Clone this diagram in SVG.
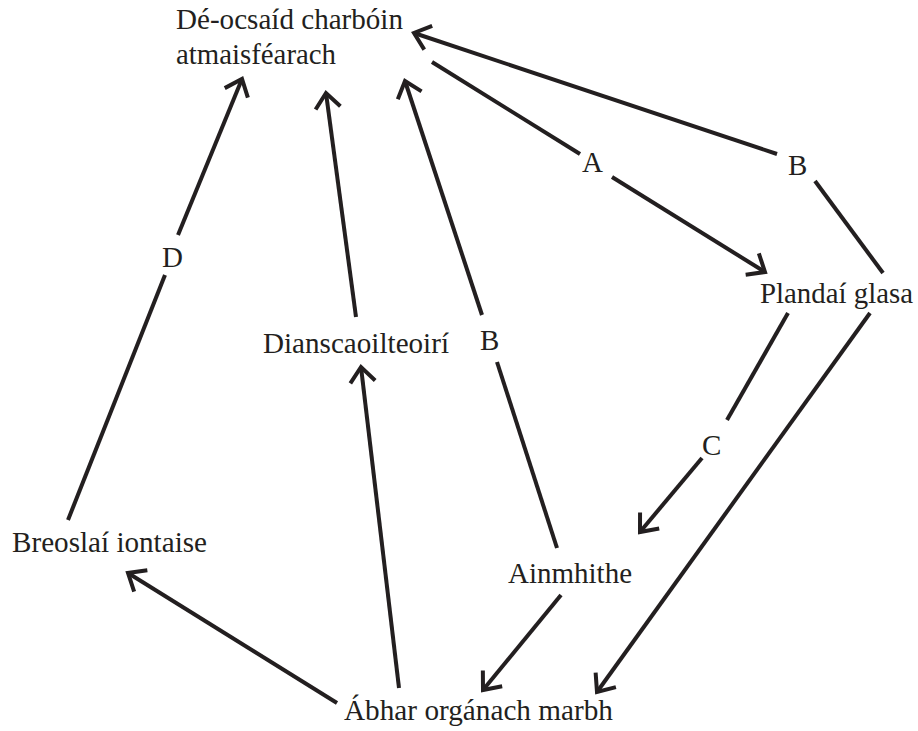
<svg xmlns="http://www.w3.org/2000/svg" width="918" height="731" viewBox="0 0 918 731">
<style>
text{font-family:"Liberation Serif","Times New Roman",serif;font-size:29px;fill:#231f20}
.c path{fill:none;stroke:#231f20;stroke-width:4}
</style>
<defs>
<marker id="arr" markerUnits="userSpaceOnUse" viewBox="-20 -15 25 30" markerWidth="25" markerHeight="30" refX="0" refY="0" orient="auto" overflow="visible">
<path d="M-15,-12.5 L0,0 L-15,12.5" fill="none" stroke="#231f20" stroke-width="4"/>
</marker>
</defs>
<rect width="918" height="731" fill="#fff"/>
<g class="c" id="connectors">
<path d="M883,273 L815,181"/>
<path d="M777,154 L414,33" marker-end="url(#arr)"/>
<path d="M432,62 L580,154"/>
<path d="M612,177 L765,272" marker-end="url(#arr)"/>
<path d="M788,313 L727,420"/>
<path d="M702,458 L640,532" marker-end="url(#arr)"/>
<path d="M870,313 L597,692" marker-end="url(#arr)"/>
<path d="M561,595 L483,690" marker-end="url(#arr)"/>
<path d="M557,548 L497,362"/>
<path d="M482,315 L405,81" marker-end="url(#arr)"/>
<path d="M356,317 L326,93" marker-end="url(#arr)"/>
<path d="M399,688 L361,367" marker-end="url(#arr)"/>
<path d="M337,703 L128,573" marker-end="url(#arr)"/>
<path d="M68,520 L165,275"/>
<path d="M178,235 L242,79" marker-end="url(#arr)"/>
<text x="582" y="172" font-size="30">A</text>
<text x="788" y="175" font-size="30">B</text>
<text x="702" y="455" font-size="30">C</text>
<text x="480" y="350" font-size="30">B</text>
<text x="162" y="267" font-size="30">D</text>
</g>
<g id="co2"><text x="176" y="29" textLength="227" lengthAdjust="spacingAndGlyphs">Dé-ocsaíd charbóin</text><text x="176" y="64" textLength="160" lengthAdjust="spacingAndGlyphs">atmaisféarach</text></g>
<g id="plandai"><text x="760" y="303" textLength="153" lengthAdjust="spacingAndGlyphs">Plandaí glasa</text></g>
<g id="dianscaoilteoiri"><text x="263" y="353" textLength="186" lengthAdjust="spacingAndGlyphs">Dianscaoilteoirí</text></g>
<g id="breoslai"><text x="12" y="552" textLength="195" lengthAdjust="spacingAndGlyphs">Breoslaí iontaise</text></g>
<g id="ainmhithe"><text x="508" y="583" textLength="124" lengthAdjust="spacingAndGlyphs">Ainmhithe</text></g>
<g id="abhar"><text x="344" y="720" textLength="269" lengthAdjust="spacingAndGlyphs">Ábhar orgánach marbh</text></g>
</svg>
